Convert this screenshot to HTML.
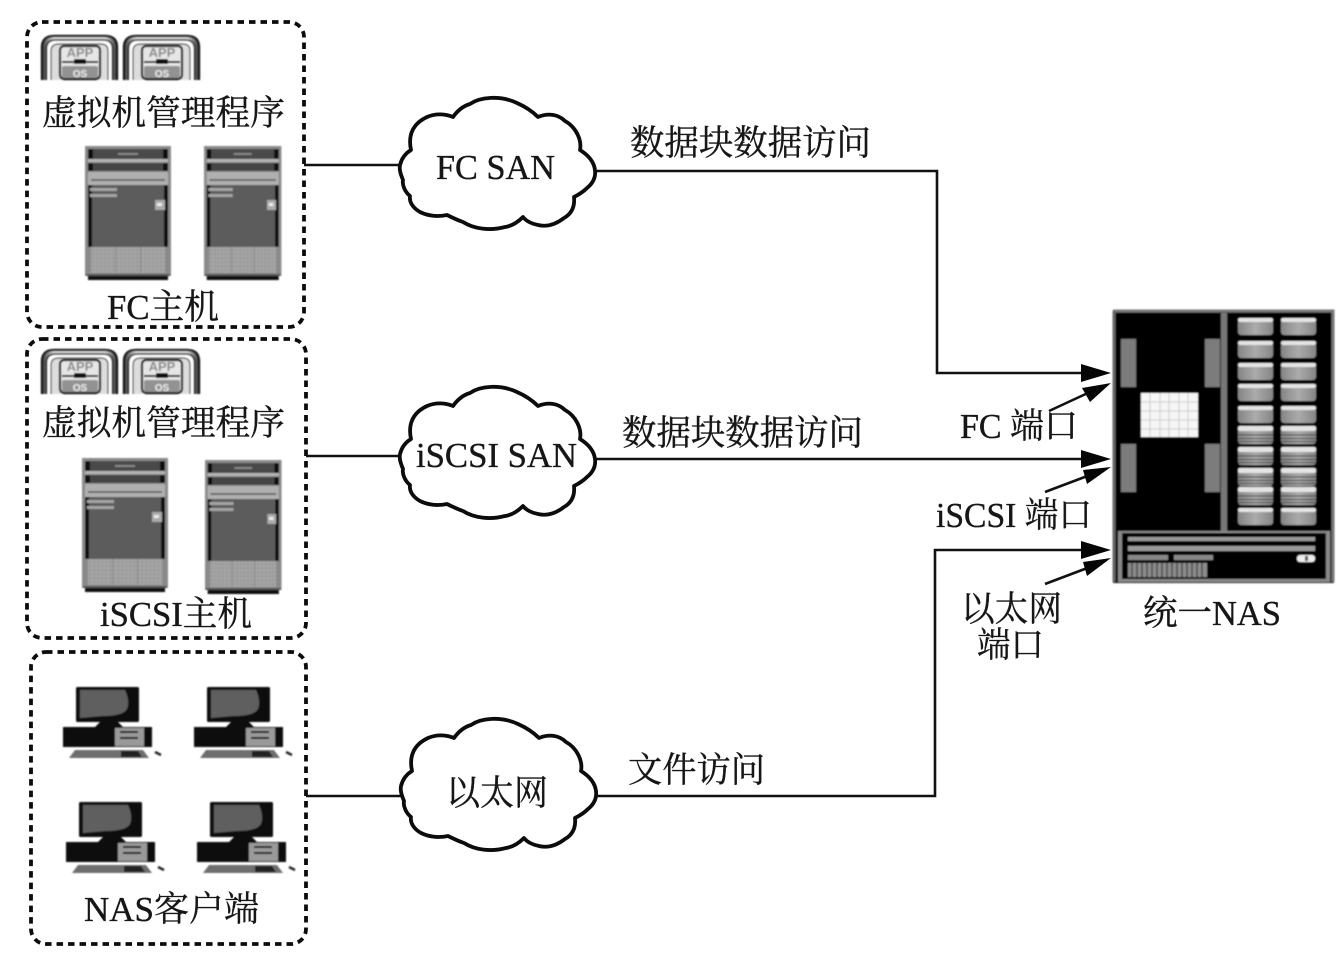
<!DOCTYPE html>
<html lang="zh">
<head>
<meta charset="utf-8">
<title>统一NAS</title>
<style>
html,body{margin:0;padding:0;background:#fff;width:1342px;height:959px;overflow:hidden}
svg{display:block}
text{font-family:"Liberation Serif","Noto Serif CJK SC",serif;font-size:35px;fill:#151515;stroke:#151515;stroke-width:.35px}
#labels{filter:url(#t)}
</style>
</head>
<body>
<svg width="1342" height="959" viewBox="0 0 1342 959" xmlns="http://www.w3.org/2000/svg">
<defs>
<filter id="b" x="-5%" y="-5%" width="110%" height="110%"><feGaussianBlur stdDeviation="0.7"/></filter>
<filter id="t" x="0" y="0" width="100%" height="100%"><feGaussianBlur stdDeviation="0.35"/></filter>
<linearGradient id="dg" x1="0" x2="1" y1="0" y2="0">
<stop offset="0" stop-color="#858585"/><stop offset=".5" stop-color="#ababab"/><stop offset="1" stop-color="#858585"/>
</linearGradient>
<linearGradient id="vg" x1="0" x2="1" y1="0" y2="0">
<stop offset="0" stop-color="#333"/><stop offset=".16" stop-color="#ddd"/><stop offset=".84" stop-color="#ddd"/><stop offset="1" stop-color="#333"/>
</linearGradient>
<pattern id="gr" width="4" height="4" patternUnits="userSpaceOnUse">
<rect width="4" height="4" fill="#a6a6a6"/><path d="M0 0 H4 M0 0 V4" stroke="#8e8e8e" stroke-width="1"/>
</pattern>

<path id="cloud" d="M400 165 C402 157 406 153 411 150 C408 136 412 124 427 117 C436 113 446 114 453 117 C458 110 463 106 470 104 C480 97 500 95 517 103 C526 107 533 112 538 117 C548 113 558 114 565 121 C576 127 582 140 580 150 C588 155 594 162 595 170 C596 178 592 184 587 188 C582 193 578 195 574 197 C575 207 571 214 564 218 C555 225 546 227 538 225 C532 224 526 221 523 217 C518 222 512 226 505 227 C490 231 474 229 463 222 C457 220 451 217 447 215 C438 217 428 216 420 212 C413 208 409 202 410 196 C405 192 402 185 403 180 C401 175 399 170 400 165 Z" fill="#fff" stroke="#0c0c0c" stroke-width="3.8" stroke-linejoin="round"/>

<g id="server">
<rect x="0" y="0" width="86" height="130" fill="#8a8a8a"/>
<rect x="3" y="3" width="80" height="10" fill="#4a4a4a"/>
<rect x="3" y="3" width="5" height="10" fill="#111"/><rect x="78" y="3" width="5" height="10" fill="#111"/>
<rect x="33" y="7" width="20" height="2" fill="#888"/>
<rect x="3" y="13" width="80" height="3" fill="#b4b4b4"/>
<rect x="3" y="17" width="80" height="8" fill="#444"/>
<rect x="3" y="17" width="5" height="8" fill="#111"/><rect x="78" y="17" width="5" height="8" fill="#111"/>
<rect x="3" y="26" width="80" height="13" fill="#b0b0b0"/>
<rect x="6" y="33" width="74" height="2" fill="#6a6a6a"/>
<rect x="3" y="39" width="80" height="62" fill="#111"/>
<rect x="7" y="39" width="72" height="62" fill="#5c5c5c"/>
<rect x="5" y="42" width="27" height="3" fill="#a4a4a4"/>
<rect x="5" y="48" width="27" height="3" fill="#a4a4a4"/>
<rect x="70" y="54" width="10" height="10" fill="#aaa"/><rect x="72" y="57" width="5" height="3" fill="#eee"/>
<rect x="6" y="101" width="24" height="26" fill="url(#gr)"/>
<rect x="31" y="101" width="24" height="26" fill="url(#gr)"/>
<rect x="56" y="101" width="24" height="26" fill="url(#gr)"/>
<rect x="1" y="128" width="84" height="2" fill="#555"/>
<rect x="3" y="130" width="80" height="4" fill="#111"/>
</g>

<g id="vmone">
<path d="M1 45 V12 Q1 1 13 1 H64 Q76 1 76 12 V45" fill="url(#vg)" stroke="#111" stroke-width="2.2"/>
<path d="M5.5 45 V14 Q5.5 5 15 5 H62 Q71.5 5 71.5 14 V45" fill="#fff" stroke="#111" stroke-width="1.6"/>
<path d="M10 45 V16 Q10 9 18 9 H60 Q67 9 67 16 V45" fill="#ddd" stroke="#333" stroke-width="1.2"/>
<rect x="19" y="11" width="40" height="33" rx="4" fill="#e6e6e6" stroke="#111" stroke-width="2.2"/>
<rect x="21" y="31" width="36" height="12" rx="2" fill="#929292"/>
<rect x="21" y="26" width="36" height="2" fill="#111"/>
<rect x="33" y="24" width="12" height="5" fill="#111"/>
<text x="39" y="22" text-anchor="middle" style="font-family:'Liberation Sans',sans-serif;font-size:13px;font-weight:bold;fill:#888;stroke:none">APP</text>
<text x="39" y="42" text-anchor="middle" style="font-family:'Liberation Sans',sans-serif;font-size:10px;font-weight:bold;fill:#eee;stroke:none">OS</text>
</g>

<g id="pc">
<rect x="13" y="0" width="63" height="35" rx="1.5" fill="#0c0c0c"/>
<path d="M17 3 H62 Q67 14 64 22 Q60 29 40 29 L17 31 Z" fill="#5e5e5e"/>
<path d="M37 35 H55 L60 40 H32 Z" fill="#111"/>
<rect x="0" y="40" width="89" height="20" fill="#0c0c0c"/>
<rect x="52" y="41" width="29" height="18" fill="#9a9a9a"/>
<rect x="57" y="44" width="18" height="2" fill="#111"/>
<rect x="57" y="50" width="18" height="2" fill="#111"/>
<path d="M12 63 H80 L86 71 H6 Z" fill="#6e6e6e"/>
<path d="M58 64 H75 L79 70 H58 Z" fill="#222"/>
<path d="M92 65 L98 68" stroke="#222" stroke-width="2.4"/>
</g>

<g id="d1">
<rect x="0" y="2" width="35" height="15" rx="3" fill="url(#dg)"/>
<rect x="0" y="0" width="35" height="4" rx="2" fill="#e4e4e4"/>
</g>
<g id="d2">
<rect x="0" y="2" width="35" height="16" rx="3" fill="url(#dg)"/>
<rect x="0" y="0" width="35" height="5" rx="2" fill="#e4e4e4"/>
<path d="M0 9 H35 M0 12.5 H35 M0 15.5 H35" stroke="#333" stroke-width="1"/>
</g>
<g id="tabs">
<rect x="0" y="0" width="15" height="48" fill="#7c7c7c"/>
<rect x="84" y="0" width="15" height="48" fill="#7c7c7c"/>
</g>
</defs>

<!-- dotted groups -->
<g fill="none" stroke="#0c0c0c" stroke-width="3.8" stroke-dasharray="6.5 5">
<rect x="27" y="22" width="277" height="305" rx="15"/>
<rect x="27" y="339" width="279" height="299" rx="15"/>
<rect x="31" y="652" width="275" height="292" rx="15"/>
</g>

<!-- connectors -->
<g fill="none" stroke="#111" stroke-width="2.6">
<path d="M304 165 H402"/>
<path d="M594 171 H937 V373 H1084"/>
<path d="M306 456 H402"/>
<path d="M594 459 H1084"/>
<path d="M306 796 H404"/>
<path d="M595 796 H935 V550 H1084"/>
<path d="M1049 411 L1090 392"/>
<path d="M1045 492 L1090 475"/>
<path d="M1045 584 L1090 567"/>
</g>
<g fill="#050505">
<polygon points="1111,373 1081,364 1081,382"/>
<polygon points="1111,459 1081,450 1081,468"/>
<polygon points="1111,550 1081,541 1081,559"/>
<polygon points="1111,383 1082,388 1090,402"/>
<polygon points="1111,467 1083,470 1087,484"/>
<polygon points="1111,558 1083,562 1087,576"/>
</g>

<!-- clouds -->
<use href="#cloud"/>
<use href="#cloud" transform="translate(0,289)"/>
<use href="#cloud" transform="translate(1,621)"/>

<!-- icons -->
<g filter="url(#b)">
<use href="#vmone" x="41" y="35"/>
<use href="#vmone" x="123" y="35"/>
<use href="#vmone" x="41" y="349"/>
<use href="#vmone" x="123" y="349"/>

<use href="#server" x="85" y="146"/>
<use href="#server" transform="translate(204,146) scale(.9,1)"/>
<use href="#server" x="82" y="458"/>
<use href="#server" transform="translate(205,460) scale(.89,1)"/>

<use href="#pc" x="63" y="687"/>
<use href="#pc" x="194" y="687"/>
<use href="#pc" x="66" y="802"/>
<use href="#pc" x="197" y="802"/>

<!-- NAS -->
<rect x="1113" y="310" width="221" height="273" fill="#000"/>
<path d="M1114 311 H1333 V582" fill="none" stroke="#777" stroke-width="3"/>
<path d="M1114 311 V582" fill="none" stroke="#666" stroke-width="3"/>
<rect x="1221" y="313" width="6" height="218" fill="#777"/>
<use href="#tabs" x="1121" y="339"/>
<use href="#tabs" x="1121" y="444"/>
<rect x="1141" y="393" width="57" height="44" fill="#f6f6f6"/>
<path d="M1150 393 V437 M1160 393 V437 M1169 393 V437 M1179 393 V437 M1188 393 V437 M1141 402 H1198 M1141 411 H1198 M1141 420 H1198 M1141 429 H1198" stroke="#ccc" stroke-width="1"/>
<use href="#d1" x="1238" y="318"/><use href="#d1" x="1281" y="318"/>
<use href="#d1" x="1238" y="341"/><use href="#d1" x="1281" y="341"/>
<use href="#d1" x="1238" y="363"/><use href="#d1" x="1281" y="363"/>
<use href="#d1" x="1238" y="384"/><use href="#d1" x="1281" y="384"/>
<use href="#d1" x="1238" y="406"/><use href="#d1" x="1281" y="406"/>
<use href="#d2" x="1238" y="426"/><use href="#d2" x="1281" y="426"/>
<use href="#d2" x="1238" y="447"/><use href="#d2" x="1281" y="447"/>
<use href="#d2" x="1238" y="468"/><use href="#d2" x="1281" y="468"/>
<use href="#d2" x="1238" y="487"/><use href="#d2" x="1281" y="487"/>
<use href="#d1" x="1238" y="508"/><use href="#d1" x="1281" y="508"/>
<rect x="1118" y="531" width="212" height="51" fill="#888"/>
<rect x="1122" y="533" width="204" height="46" fill="#000"/>
<rect x="1128" y="537" width="187" height="4" fill="#999"/>
<rect x="1128" y="546" width="187" height="5" fill="#999"/>
<rect x="1128" y="555" width="40" height="5" fill="#888"/>
<rect x="1174" y="555" width="39" height="5" fill="#888"/>
<rect x="1297" y="555" width="18" height="7" rx="3" fill="#eee"/>
<rect x="1305" y="556" width="3" height="5" fill="#555"/>
<rect x="1128" y="563" width="79" height="14" fill="#8c8c8c"/>
<path d="M1132 563 V577 M1137 563 V577 M1142 563 V577 M1147 563 V577 M1152 563 V577 M1157 563 V577 M1162 563 V577 M1167 563 V577 M1172 563 V577 M1177 563 V577 M1182 563 V577 M1187 563 V577 M1192 563 V577 M1197 563 V577 M1202 563 V577" stroke="#444" stroke-width="1.4"/>
</g>

<!-- labels -->
<g id="labels">
<text x="42" y="125" textLength="243" lengthAdjust="spacingAndGlyphs">虚拟机管理程序</text>
<text x="107" y="319" textLength="112" lengthAdjust="spacingAndGlyphs">FC主机</text>
<text x="42" y="435" textLength="243" lengthAdjust="spacingAndGlyphs">虚拟机管理程序</text>
<text x="100" y="626" textLength="152" lengthAdjust="spacingAndGlyphs">iSCSI主机</text>
<text x="84" y="921" textLength="175" lengthAdjust="spacingAndGlyphs">NAS客户端</text>
<text x="436" y="179" textLength="119" lengthAdjust="spacingAndGlyphs">FC SAN</text>
<text x="416" y="467" textLength="161" lengthAdjust="spacingAndGlyphs">iSCSI SAN</text>
<text x="446" y="805" textLength="102" lengthAdjust="spacingAndGlyphs">以太网</text>
<text x="630" y="155" textLength="241" lengthAdjust="spacingAndGlyphs">数据块数据访问</text>
<text x="622" y="445" textLength="241" lengthAdjust="spacingAndGlyphs">数据块数据访问</text>
<text x="628" y="782" textLength="137" lengthAdjust="spacingAndGlyphs">文件访问</text>
<text x="960" y="438" textLength="118" lengthAdjust="spacingAndGlyphs">FC 端口</text>
<text x="936" y="527" textLength="156" lengthAdjust="spacingAndGlyphs">iSCSI 端口</text>
<text x="961" y="621" textLength="101" lengthAdjust="spacingAndGlyphs">以太网</text>
<text x="977" y="657" textLength="67" lengthAdjust="spacingAndGlyphs">端口</text>
<text x="1143" y="625" textLength="138" lengthAdjust="spacingAndGlyphs">统一NAS</text>
</g>
</svg>
</body>
</html>
